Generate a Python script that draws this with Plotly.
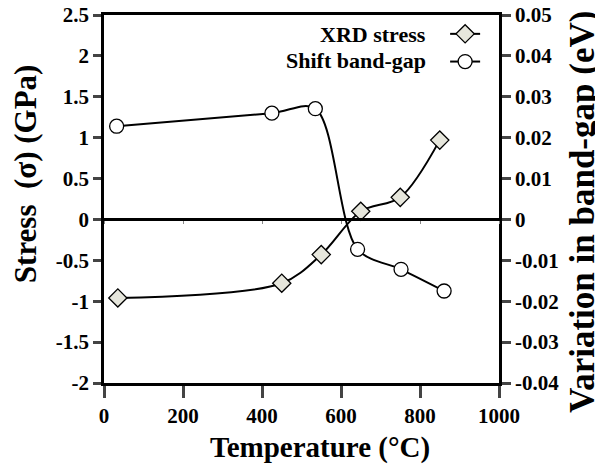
import plotly.graph_objects as go

temp_stress = [35, 450, 550, 650, 750, 850]
stress_gpa = [-0.96, -0.78, -0.43, 0.10, 0.27, 0.97]

temp_gap = [32, 425, 535, 642, 752, 861]
gap_shift_ev = [0.0228, 0.0260, 0.0271, -0.0073, -0.0122, -0.0175]

x_ticks = [0, 200, 400, 600, 800, 1000]
y1_ticks = [-2, -1.5, -1, -0.5, 0, 0.5, 1, 1.5, 2, 2.5]
y1_labels = ["-2", "-1.5", "-1", "-0.5", "0", "0.5", "1", "1.5", "2", "2.5"]
y2_ticks = [-0.04, -0.03, -0.02, -0.01, 0, 0.01, 0.02, 0.03, 0.04, 0.05]
y2_labels = ["-0.04", "-0.03", "-0.02", "-0.01", "0", "0.01", "0.02", "0.03", "0.04", "0.05"]

legend_names = ["XRD stress", "Shift band-gap"]

FONT = "Liberation Serif"
tick_font = dict(family=FONT, size=21, color="black", weight="bold")

fig = go.Figure()
fig.add_trace(go.Scatter(
    x=temp_stress, y=stress_gpa, mode="lines+markers", name=" ",
    line=dict(color="black", width=2, shape="spline", smoothing=0.9),
    marker=dict(symbol="diamond", size=14, color="#e6e6dc",
                line=dict(color="black", width=1.3)),
    yaxis="y", xaxis="x", showlegend=True,
))
fig.add_trace(go.Scatter(
    x=temp_gap, y=gap_shift_ev, mode="lines+markers", name="  ",
    line=dict(color="black", width=2, shape="spline", smoothing=0.9),
    marker=dict(symbol="circle", size=14, color="white",
                line=dict(color="black", width=1.3)),
    yaxis="y2", xaxis="x", showlegend=True,
))
# activates the zero-crossing x axis (line with small ticks at y = 0)
fig.add_trace(go.Scatter(x=[None], y=[None], xaxis="x2", showlegend=False,
                         hoverinfo="skip"))

# the page body has an 8px margin, so the figure is sized to fit the window
fig.update_layout(
    width=595, height=465,
    margin=dict(l=96, r=104, t=7, b=90, autoexpand=False),
    paper_bgcolor="white", plot_bgcolor="white",
    showlegend=True,
    legend=dict(x=0.8636, y=1.0, xanchor="left", yanchor="top",
                bgcolor="rgba(0,0,0,0)", font=dict(family=FONT, size=19),
                tracegroupgap=0, itemwidth=30),
    xaxis=dict(range=[0, 1000], tickvals=x_ticks, ticks="outside", ticklen=12,
               tickwidth=2.5, showline=True, linewidth=2.5, linecolor="black",
               mirror=True, showgrid=False, zeroline=False, tickfont=tick_font,
               automargin=False, ticklabeloverflow="allow", ticklabelstandoff=0),
    xaxis2=dict(range=[0, 1000], tickvals=x_ticks, ticks="outside", ticklen=3,
                tickwidth=1, tickcolor="#888888", showline=True, linewidth=2.5,
                linecolor="black", showgrid=False, zeroline=False,
                showticklabels=False, overlaying="x", anchor="free",
                position=4 / 9, automargin=False),
    yaxis=dict(range=[-2, 2.5], tickvals=y1_ticks, ticktext=y1_labels,
               ticks="outside", ticklen=8, tickwidth=2.5, showline=True,
               linewidth=2.5, linecolor="black", showgrid=False,
               zeroline=False, tickfont=tick_font, automargin=False,
               ticklabeloverflow="allow"),
    yaxis2=dict(range=[-0.04, 0.05], tickvals=y2_ticks, ticktext=y2_labels,
                overlaying="y", side="right", ticks="outside", ticklen=9,
                tickwidth=2.5, showline=True, linewidth=2.5, linecolor="black",
                showgrid=False, zeroline=False, tickfont=tick_font,
                automargin=False, ticklabeloverflow="allow"),
)

# axis titles placed as in the reference
fig.add_annotation(text="Temperature (°C)", xref="paper", yref="paper",
                   x=0.547, y=-0.175, xanchor="center", yanchor="middle",
                   showarrow=False,
                   font=dict(family=FONT, size=29, color="black", weight="bold"))
fig.add_annotation(text="Stress  (σ) (GPa)", xref="paper", yref="paper",
                   x=-0.197, y=0.568, xanchor="center", yanchor="middle",
                   textangle=-90, showarrow=False,
                   font=dict(family=FONT, size=31, color="black", weight="bold"))
fig.add_annotation(text="Variation in band-gap (eV)", xref="paper", yref="paper",
                   x=1.2127, y=0.465, xanchor="center", yanchor="middle",
                   textangle=-90, showarrow=False,
                   font=dict(family=FONT, size=35, color="black", weight="bold"))

legend_font = dict(family=FONT, size=22, color="black", weight="bold")
for i, name in enumerate(legend_names):
    fig.add_annotation(text=name, xref="paper", yref="paper",
                       x=0.8203, y=0.9457 - i * 0.068, xanchor="right",
                       yanchor="middle", showarrow=False, font=legend_font)

fig.write_html("out.html")
